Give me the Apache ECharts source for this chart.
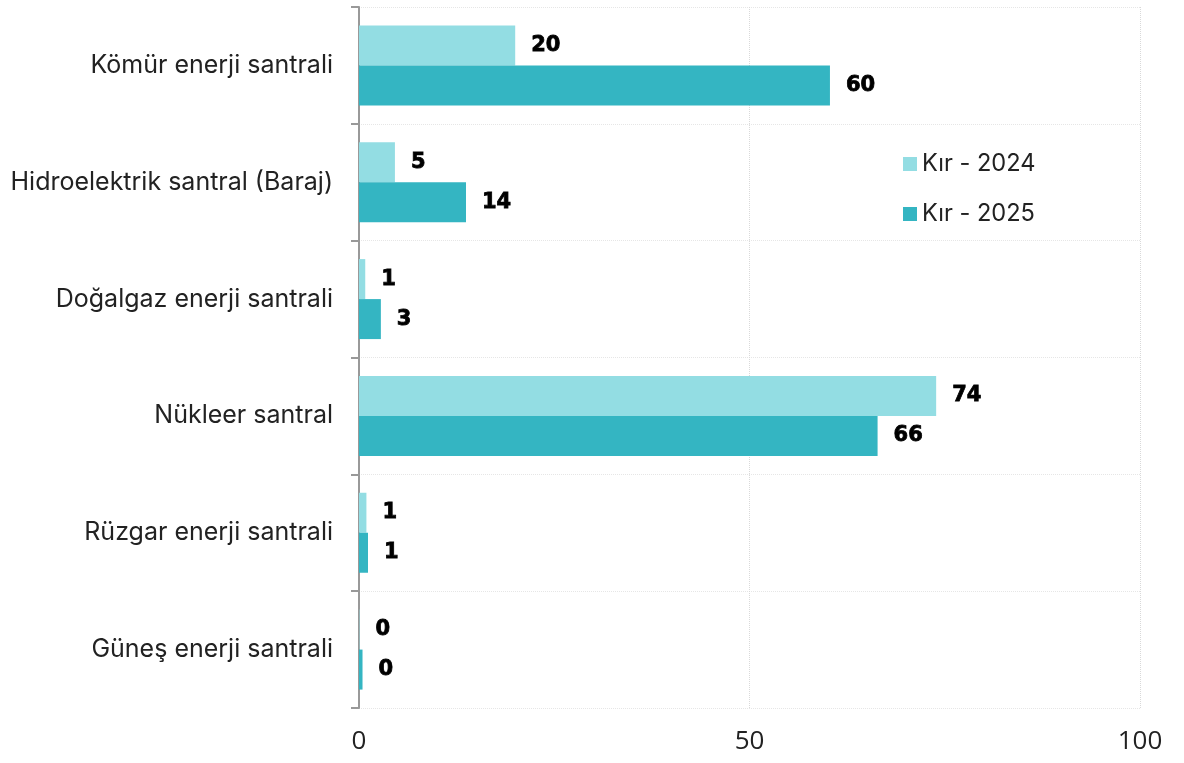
<!DOCTYPE html>
<html>
<head>
<meta charset="utf-8">
<script src="https://cdn.jsdelivr.net/npm/echarts@6/dist/echarts.min.js"></script>
<style>
html,body{margin:0;padding:0;background:#fff;}
#chart{width:1184px;height:763px;}
</style>
</head>
<body>
<div id="chart"></div>
<script>
const categories = ["Kömür enerji santrali","Hidroelektrik santral (Baraj)","Doğalgaz enerji santrali","Nükleer santral","Rüzgar enerji santrali","Güneş enerji santrali"];
const seriesNames = ["Kır - 2024","Kır - 2025"];
const values2024 = [20, 4.6, 0.8, 73.9, 0.95, 0.05];
const values2025 = [60.3, 13.7, 2.8, 66.4, 1.15, 0.45];
const xTicks = [0, 50, 100];
const colors = ["#93dde3", "#34b5c2"];

const chart = echarts.init(document.getElementById('chart'), null, {renderer:'canvas'});
const labelStyle = {
  show: true, position: 'right', distance: 16,
  fontFamily: 'DejaVu Sans', fontWeight: 'bold', fontSize: 21, color: '#000',
  textBorderColor: '#000', textBorderWidth: 0.8,
  formatter: p => Math.round(p.value)
};
chart.setOption({
  animation: false,
  grid: {left: 359, right: 44, top: 7, bottom: 55, containLabel: false},
  legend: {
    orient: 'vertical', left: 898, top: 147, itemGap: 26,
    itemWidth: 14, itemHeight: 14, icon: 'rect',
    textStyle: {fontFamily: 'Inter', fontSize: 23.6, color: '#222', padding: [0,0,0,0]},
    data: seriesNames
  },
  xAxis: {
    type: 'value', min: xTicks[0], max: xTicks[xTicks.length-1], interval: 50,
    axisLine: {show: false}, axisTick: {show: false},
    axisLabel: {fontFamily: 'Open Sans', fontSize: 26, color: '#222', margin: 21},
    splitLine: {show: true, lineStyle: {color: '#d9d9d9', type: 'dotted', width: 1}}
  },
  yAxis: {
    type: 'category', data: categories, inverse: true,
    axisLine: {show: true, lineStyle: {color: '#999', width: 2}},
    axisTick: {show: true, length: 8, lineStyle: {color: '#999', width: 2}},
    axisLabel: {fontFamily: 'Inter', fontSize: 25, color: '#222', margin: 26},
    splitLine: {show: true, lineStyle: {color: '#e6e6e6', type: 'dotted', width: 1}}
  },
  series: [
    {name: seriesNames[0], type: 'bar', data: values2024, barWidth: 40, barGap: '0%',
     itemStyle: {color: colors[0]}, label: labelStyle},
    {name: seriesNames[1], type: 'bar', data: values2025, barWidth: 40, barGap: '0%',
     itemStyle: {color: colors[1]}, label: labelStyle}
  ]
});
</script>
</body>
</html>
